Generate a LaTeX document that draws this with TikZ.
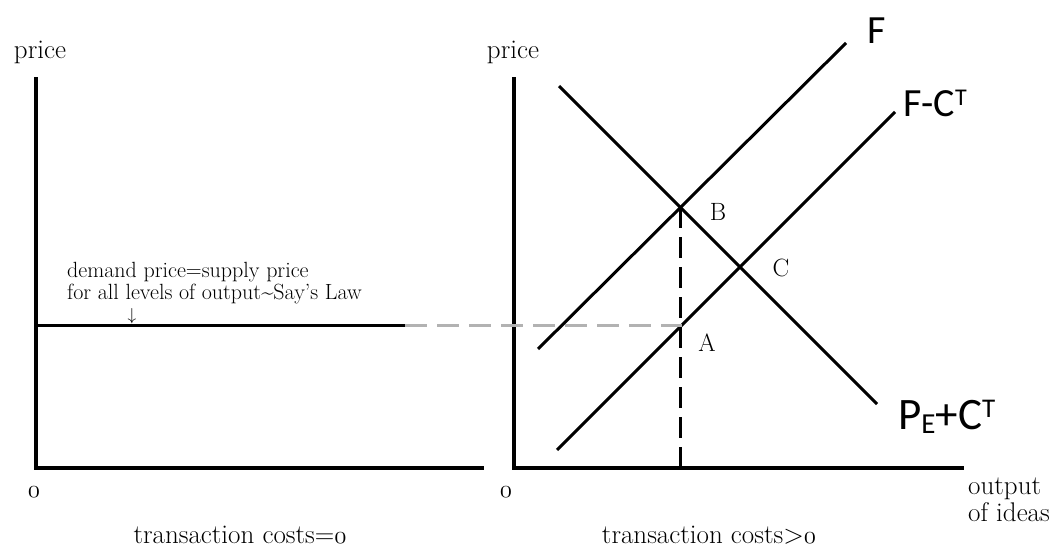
\documentclass[tikz,border=0pt]{standalone}
\usepackage{fontspec}
\newfontfamily\labfont{Carlito}
\newcommand{\ozero}{$\mathnormal{0}$}
\tikzset{
  axis/.style={line width=3.2pt, line cap=rect},
  curve/.style={line width=3pt},
  guide/.style={line width=3pt, dash pattern=on 21pt off 9pt},
  gguide/.style={line width=3pt, gray!60, dash pattern=on 22pt off 10pt},
  txt/.style={font=\fontsize{27}{30}\selectfont, inner sep=0pt},
  note/.style={font=\fontsize{22}{26}\selectfont, inner sep=0pt},
  pt/.style={font=\fontsize{25}{28}\selectfont, inner sep=0pt},
  big/.style={font=\labfont\fontsize{40}{44}\selectfont, inner sep=0pt},
}
\begin{document}
\begin{tikzpicture}[x=1pt,y=-1pt]
\useasboundingbox (0,0) rectangle (1063,559);
% left panel
\coordinate (lo) at (36,468);
\coordinate (ltop) at (36,79);
\coordinate (lright) at (482,468);
\draw[axis] (ltop) -- (lo) -- (lright);
\node[txt] (lprice) at (40,52) {price};
\node[txt] (lzero) at (34,492) {\ozero};
\node[txt] (lcap) at (240,535) {transaction costs=\ozero};
\coordinate (sl) at (36,325);
\coordinate (sr) at (405,325);
\coordinate (sfar) at (900,325);
\draw[curve] (sl) -- (sr);
\node[note, align=left, anchor=west] (say) at (67,283) {demand price=supply price\\[-4pt]for all levels of output\textasciitilde Say's Law};
\node[note, font=\fontsize{18}{20}\selectfont] (arr) at (132,316) {$\downarrow$};
% right panel
\coordinate (ro) at (514,468);
\coordinate (rtop) at (514,79);
\coordinate (rright) at (962,468);
\draw[axis] (rtop) -- (ro) -- (rright);
\node[txt] (rprice) at (513,52) {price};
\node[txt] (rzero) at (506,492) {\ozero};
\node[txt] (rcap) at (709,535) {transaction costs>\ozero};
\node[txt, align=left, anchor=north west] (out) at (968,478) {output\\[-3pt]of ideas};
% curves
\coordinate (f1) at (538,349);
\coordinate (f2) at (846,43);
\coordinate (g1) at (557,450);
\coordinate (g2) at (895,112);
\coordinate (d1) at (559,86);
\coordinate (d2) at (877,404);
\draw[curve] (f1) -- (f2);
\draw[curve] (g1) -- (g2);
\draw[curve] (d1) -- (d2);
\coordinate (B) at (intersection of f1--f2 and d1--d2);
\coordinate (C) at (intersection of g1--g2 and d1--d2);
\coordinate (A) at (intersection of g1--g2 and sr--sfar);
\coordinate (xa) at (B |- ro);
\draw[guide] (B) -- (xa);
\draw[gguide] (sr) -- (A);
\node[pt] (Bl) at (718,212) {B};
\node[pt] (Cl) at (781,268) {C};
\node[pt] (Al) at (707,343) {A};
\node[big] (Fl) at (877,31) {F};
\node[big, anchor=west] (FCl) at (903,103) {F-C\raisebox{11pt}{\fontsize{24}{24}\selectfont T}};
\node[big, anchor=west, font=\labfont\fontsize{45}{48}\selectfont] (PCl) at (898,417) {P\raisebox{-4pt}{\fontsize{29}{29}\selectfont E}+C\raisebox{12pt}{\fontsize{27}{27}\selectfont T}};
\end{tikzpicture}
\end{document}
